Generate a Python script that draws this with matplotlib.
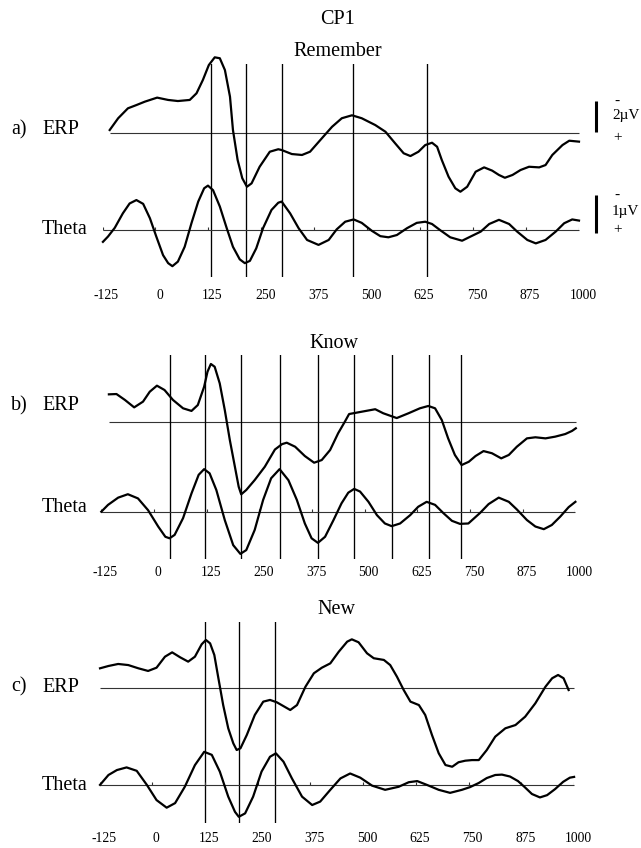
import matplotlib
matplotlib.use("Agg")
import matplotlib.pyplot as plt
from matplotlib.transforms import blended_transform_factory, ScaledTranslation

plt.rcParams['font.family'] = ['Liberation Serif', 'DejaVu Serif']

W, H, DPI = 641, 848, 100

# ---------------- data (ms, microvolts; negative plotted upward) ----------------
TICKS = [-125, 0, 125, 250, 375, 500, 625, 750, 875, 1000]
TICK_LABELS = ['-125', '0', '125', '250', '375', '500', '625', '750', '875', '1000']

ELECTRODE = 'CP1'
CONDITIONS = ['Remember', 'Know', 'New']
PANEL_LETTERS = ['a)', 'b)', 'c)']

REM_ERP_T = [-108, -88, -65, -45, -25, 4, 30, 53, 81, 97, 112, 126, 140, 152, 164, 176, 183, 194, 205, 216,
             227, 246, 270, 290, 298, 322, 346, 365, 393, 417, 440, 464, 487, 519, 543, 566, 586, 602, 621, 637,
             653, 665, 676, 692, 708, 720, 736, 756, 776, 795, 811, 825, 843, 862, 882, 906, 921, 937, 961, 977, 1000]
REM_ERP_V = [-0.16, -0.92, -1.56, -1.77, -1.99, -2.25, -2.10, -2.03, -2.10, -2.53, -3.39, -4.35, -4.85, -4.79, -4.03,
             -2.31, -0.16, 1.77, 2.95, 3.50, 3.28, 2.21, 1.24, 1.08, 1.13, 1.39, 1.45, 1.24, 0.37, -0.37,
             -0.92, -1.11, -0.92, -0.48, -0.05, 0.70, 1.34, 1.52, 1.24, 0.81, 0.66, 0.92, 1.77, 2.85, 3.60,
             3.82, 3.50, 2.53, 2.25, 2.46, 2.74, 2.92, 2.74, 2.42, 2.21, 2.25, 2.10, 1.45, 0.81, 0.53, 0.59]
REM_TH_T = [-124, -112, -96, -77, -61, -45, -29, -13, 2, 18, 30, 40, 53, 69, 85, 101, 115, 124, 136, 152,
            168, 183, 199, 211, 223, 238, 254, 274, 290, 298, 318, 338, 358, 385, 409, 428, 448, 468, 487, 511,
            531, 550, 570, 594, 617, 637, 653, 672, 696, 724, 744, 768, 788, 811, 835, 854, 878, 898, 921, 945,
            965, 984, 1000]
REM_TH_V = [0.32, 0.18, -0.05, -0.43, -0.69, -0.78, -0.68, -0.30, 0.18, 0.67, 0.88, 0.96, 0.84, 0.45, -0.17,
            -0.74, -1.09, -1.16, -1.04, -0.61, -0.05, 0.45, 0.78, 0.88, 0.82, 0.49, -0.04, -0.52, -0.71, -0.74,
            -0.43, -0.04, 0.27, 0.40, 0.27, -0.01, -0.21, -0.27, -0.18, 0.03, 0.17, 0.20, 0.14, -0.04, -0.18,
            -0.21, -0.15, 0.01, 0.20, 0.29, 0.18, 0.05, -0.15, -0.26, -0.15, 0.05, 0.27, 0.36, 0.27, 0.05,
            -0.17, -0.27, -0.24]
REM_MARKS = [131, 214, 298, 467, 642]

KNOW_ERP_T = [-107, -89, -69, -47, -26, -10, 7, 25, 45, 69, 89, 104, 119, 127, 135, 144, 156, 168, 180, 192,
              201, 207, 219, 239, 263, 287, 304, 315, 335, 358, 380, 398, 418, 437, 453, 463, 481, 505, 525, 544,
              576, 604, 631, 651, 667, 683, 698, 714, 730, 747, 763, 782, 802, 824, 842, 861, 885, 905, 929, 952,
              976, 992, 1001]
KNOW_ERP_V = [-1.81, -1.83, -1.45, -0.97, -1.34, -1.98, -2.37, -2.09, -1.45, -0.91, -0.74, -1.12, -2.30, -3.27,
              -3.77, -3.59, -2.52, -0.80, 1.14, 2.86, 4.15, 4.64, 4.36, 3.72, 2.86, 1.75, 1.40, 1.31, 1.57, 2.17,
              2.60, 2.43, 1.78, 0.70, -0.05, -0.54, -0.63, -0.75, -0.85, -0.59, -0.28, -0.59, -0.91, -1.06, -0.91,
              -0.15, 1.03, 2.10, 2.75, 2.54, 2.17, 1.85, 1.99, 2.32, 2.10, 1.57, 1.03, 0.96, 1.03, 0.92,
              0.75, 0.55, 0.38]
KNOW_TH_T = [-125, -109, -85, -62, -38, -14, 10, 27, 37, 49, 69, 89, 106, 119, 132, 148, 168, 188, 205, 219,
             239, 259, 278, 298, 319, 339, 358, 374, 389, 406, 426, 445, 461, 475, 489, 509, 529, 548, 564, 584,
             608, 627, 647, 667, 687, 707, 726, 746, 774, 794, 818, 842, 861, 885, 905, 925, 944, 964, 984, 1000]
KNOW_TH_V = [0.00, -0.18, -0.37, -0.46, -0.35, -0.04, 0.39, 0.66, 0.70, 0.61, 0.17, -0.48, -0.97, -1.12, -1.01,
             -0.57, 0.22, 0.88, 1.11, 1.01, 0.48, -0.31, -0.88, -1.12, -0.83, -0.31, 0.31, 0.70, 0.82, 0.66,
             0.22, -0.22, -0.50, -0.60, -0.53, -0.26, 0.09, 0.31, 0.38, 0.31, 0.09, -0.13, -0.26, -0.18, 0.04,
             0.24, 0.32, 0.31, 0.03, -0.20, -0.37, -0.26, -0.06, 0.22, 0.39, 0.46, 0.35, 0.13, -0.12, -0.26]
KNOW_MARKS = [37, 120, 207, 300, 390, 475, 564, 653, 728]

NEW_ERP_T = [-124, -104, -81, -57, -33, -10, 10, 30, 47, 66, 85, 101, 117, 127, 137, 147, 156, 168, 180, 192,
             200, 209, 224, 243, 263, 279, 295, 327, 343, 363, 383, 402, 422, 442, 462, 473, 489, 509, 525, 549,
             564, 580, 596, 612, 632, 647, 663, 679, 695, 711, 726, 742, 758, 774, 793, 813, 837, 861, 884, 908,
             932, 948, 962, 975, 987]
NEW_ERP_V = [-1.27, -1.42, -1.55, -1.48, -1.27, -1.10, -1.31, -2.02, -2.30, -1.98, -1.70, -2.02, -2.82, -3.10,
             -2.88, -2.13, -0.73, 1.10, 2.60, 3.57, 4.00, 3.89, 3.03, 1.74, 0.88, 0.77, 0.92, 1.42, 1.10, -0.08,
             -0.95, -1.31, -1.59, -2.34, -2.99, -3.14, -2.95, -2.24, -1.92, -1.81, -1.48, -0.73, 0.13, 0.88, 1.10,
             1.74, 3.03, 4.21, 4.97, 5.08, 4.79, 4.69, 4.65, 4.65, 4.00, 3.14, 2.60, 2.39, 1.85, 0.99,
             -0.08, -0.63, -0.84, -0.63, 0.13]
NEW_TH_T = [-124, -104, -84, -61, -37, -13, 10, 34, 54, 77, 101, 123, 141, 160, 180, 196, 205, 220, 239, 259,
            279, 293, 311, 331, 355, 379, 398, 422, 446, 469, 493, 521, 552, 584, 608, 628, 651, 679, 706, 734,
            753, 774, 793, 813, 829, 848, 867, 883, 900, 919, 936, 955, 974, 990, 1000]
NEW_TH_V = [0.01, -0.25, -0.38, -0.45, -0.36, 0.01, 0.41, 0.61, 0.49, 0.06, -0.51, -0.86, -0.78, -0.34, 0.32,
            0.72, 0.85, 0.76, 0.32, -0.34, -0.73, -0.82, -0.60, -0.16, 0.32, 0.54, 0.45, 0.14, -0.16, -0.29,
            -0.18, 0.03, 0.14, 0.06, -0.06, -0.09, 0.01, 0.14, 0.22, 0.14, 0.07, -0.04, -0.17, -0.25, -0.26,
            -0.21, -0.09, 0.07, 0.25, 0.34, 0.28, 0.12, -0.07, -0.18, -0.20]
NEW_MARKS = [125, 205, 292]

ERP_SCALE_UV = 2
THETA_SCALE_UV = 1

# ---------------- layout (pixels) ----------------
ERP_PX_PER_UV = 15.5
THETA_PX_PER_UV = 38.0

LAYOUT = [
    dict(x0=102.5, x1=579.0, ytop=64, ybot=277, erp=132.5, th=229.7, lab=295, title=(338, 52),
         erp_lab=130, th_lab=230),
    dict(x0=101.3, x1=575.4, ytop=355, ybot=559, erp=422.4, th=511.7, lab=572, title=(334, 343),
         erp_lab=406, th_lab=508),
    dict(x0=99.6, x1=574.1, ytop=622, ybot=823, erp=688.0, th=784.5, lab=838, title=(336, 610),
         erp_lab=687, th_lab=786),
]
SERIES = [
    (REM_ERP_T, REM_ERP_V, REM_TH_T, REM_TH_V, REM_MARKS),
    (KNOW_ERP_T, KNOW_ERP_V, KNOW_TH_T, KNOW_TH_V, KNOW_MARKS),
    (NEW_ERP_T, NEW_ERP_V, NEW_TH_T, NEW_TH_V, NEW_MARKS),
]

fig = plt.figure(figsize=(W / DPI, H / DPI), dpi=DPI)


def fx(px):
    return px / W


def fy(py):
    return 1 - py / H


TRACE_LW = 1.6
TEXT_FS = 14.5
TICK_FS = 9.8

fig.text(fx(338), fy(20), ELECTRODE, ha='center', va='center', fontsize=TEXT_FS)

label_shift = ScaledTranslation(4 / DPI, 0, fig.dpi_scale_trans)

for i, (lay, ser, cond, letter) in enumerate(zip(LAYOUT, SERIES, CONDITIONS, PANEL_LETTERS)):
    et, ev, tt, tv, marks = ser
    pos = [fx(lay['x0']), fy(lay['ybot']), fx(lay['x1']) - fx(lay['x0']), (lay['ybot'] - lay['ytop']) / H]
    ax_e = fig.add_axes(pos)
    ax_t = fig.add_axes(pos)
    for ax in (ax_e, ax_t):
        ax.set_xlim(TICKS[0], TICKS[-1])
        ax.axis('off')
        ax.patch.set_alpha(0)
    ax_e.set_ylim((lay['ybot'] - lay['erp']) / ERP_PX_PER_UV, (lay['ytop'] - lay['erp']) / ERP_PX_PER_UV)
    ax_t.set_ylim((lay['ybot'] - lay['th']) / THETA_PX_PER_UV, (lay['ytop'] - lay['th']) / THETA_PX_PER_UV)

    # baselines
    ax_e.hlines(0, et[0], max(et[-1], TICKS[-1]), color='0.2', lw=0.8, clip_on=False)
    ax_t.hlines(0, TICKS[0], TICKS[-1], color='0.2', lw=0.8, clip_on=False)
    ax_t.vlines(TICKS, 0, -0.07, color='0.2', lw=0.8)

    # traces
    ax_e.plot(et, ev, color='black', lw=TRACE_LW, clip_on=False, solid_joinstyle='round')
    ax_t.plot(tt, tv, color='black', lw=TRACE_LW, clip_on=False, solid_joinstyle='round')

    # vertical markers at theta extrema
    for m in marks:
        ax_e.axvline(m, color='black', lw=0.95)

    # tick labels
    trans = blended_transform_factory(ax_e.transData, fig.transFigure) + label_shift
    for tk, lb in zip(TICKS, TICK_LABELS):
        ax_e.text(tk, fy(lay['lab']), lb, transform=trans, ha='center', va='center',
                  fontsize=TICK_FS, clip_on=False)

    # texts
    fig.text(fx(lay['title'][0]), fy(lay['title'][1]), cond, ha='center', va='center', fontsize=TEXT_FS)
    fig.text(fx(11), fy(lay['erp_lab']), letter, ha='left', va='center', fontsize=TEXT_FS)
    fig.text(fx(42), fy(lay['erp_lab']), 'ERP', ha='left', va='center', fontsize=TEXT_FS)
    fig.text(fx(42), fy(lay['th_lab']), 'Theta', ha='left', va='center', fontsize=TEXT_FS)

    if i == 0:
        span = TICKS[-1] - TICKS[0]
        bar_t = TICKS[0] + (595.5 - lay['x0']) / (lay['x1'] - lay['x0']) * span
        ax_e.vlines(bar_t, -0.05 - ERP_SCALE_UV, -0.05, color='black', lw=2.2, clip_on=False)
        ax_t.vlines(bar_t, 0.08 - THETA_SCALE_UV, 0.08, color='black', lw=2.2, clip_on=False)
        fig.text(fx(614), fy(101), '-', ha='left', va='center', fontsize=11)
        fig.text(fx(612), fy(116), f'{ERP_SCALE_UV}\u00b5V', ha='left', va='center', fontsize=11)
        fig.text(fx(613), fy(138), '+', ha='left', va='center', fontsize=11)
        fig.text(fx(614), fy(195), '-', ha='left', va='center', fontsize=11)
        fig.text(fx(612), fy(211), f'{THETA_SCALE_UV}\u00b5V', ha='left', va='center', fontsize=11)
        fig.text(fx(613), fy(230), '+', ha='left', va='center', fontsize=11)

fig.savefig('out.png', dpi=DPI, facecolor='white')
